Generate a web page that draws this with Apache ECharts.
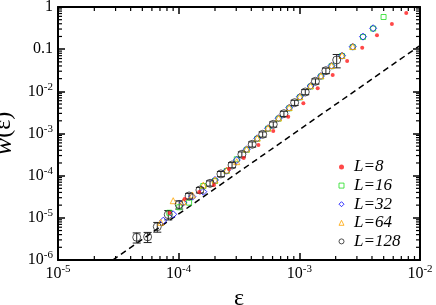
<!DOCTYPE html>
<html><head><meta charset="utf-8">
<script src="https://cdn.jsdelivr.net/npm/echarts@6/dist/echarts.min.js"></script>
<style>html,body{margin:0;padding:0;background:#fff}#c{width:436px;height:305px}</style>
</head><body><div id="c"></div>
<script>
// ---- data ----
const seriesNames = ['L=8', 'L=16', 'L=32', 'L=64', 'L=128'];

const x8 = [8.41e-5, 1.12e-4, 1.48e-4, 1.96e-4, 2.61e-4, 3.46e-4, 4.58e-4, 6.08e-4, 8.09e-4, 1.08e-3, 1.42e-3, 1.89e-3, 2.49e-3, 3.32e-3, 4.40e-3, 5.85e-3, 7.69e-3];
const y8 = [1.30e-5, 2.80e-5, 4.10e-5, 6.01e-5, 1.44e-4, 2.63e-4, 5.34e-4, 1.15e-3, 2.50e-3, 5.20e-3, 1.18e-2, 2.44e-2, 5.24e-2, 0.108, 0.213, 0.395, 0.721];

const x16 = [8.36e-5, 1.01e-4, 1.22e-4, 1.60e-4, 2.00e-4, 2.50e-4, 3.03e-4, 3.66e-4, 4.48e-4, 5.50e-4, 6.73e-4, 8.24e-4, 1.01e-3, 1.24e-3, 1.51e-3, 1.85e-3, 2.26e-3, 2.77e-3, 3.37e-3, 4.09e-3, 4.99e-3];
const y16 = [1.32e-5, 1.78e-5, 2.29e-5, 5.69e-5, 7.48e-5, 1.29e-4, 2.45e-4, 4.10e-4, 7.50e-4, 1.30e-3, 2.25e-3, 3.95e-3, 7.20e-3, 1.30e-2, 2.25e-2, 3.95e-2, 6.90e-2, 0.112, 0.195, 0.308, 0.579];

const x32 = [7.45e-5, 9.01e-5, 1.09e-4, 1.30e-4, 1.60e-4, 2.00e-4, 2.50e-4, 3.03e-4, 3.66e-4, 4.48e-4, 5.50e-4, 6.73e-4, 8.24e-4, 1.01e-3, 1.24e-3, 1.51e-3, 1.85e-3, 2.26e-3, 2.77e-3, 3.37e-3, 4.09e-3];
const y32 = [8.55e-6, 1.21e-5, 2.29e-5, 3.17e-5, 4.17e-5, 7.90e-5, 1.31e-4, 2.35e-4, 4.22e-4, 7.69e-4, 1.33e-3, 2.30e-3, 4.09e-3, 7.46e-3, 1.34e-2, 2.31e-2, 4.06e-2, 7.00e-2, 0.1145, 0.198, 0.313];

const x64 = [7.10e-5, 9.01e-5, 1.09e-4, 1.30e-4, 1.60e-4, 2.00e-4, 2.50e-4, 3.03e-4, 3.66e-4, 4.48e-4, 5.50e-4, 6.73e-4, 8.24e-4, 1.01e-3, 1.24e-3, 1.51e-3, 1.85e-3, 2.26e-3, 2.77e-3];
const y64 = [7.84e-6, 2.55e-5, 2.40e-5, 3.48e-5, 6.01e-5, 7.90e-5, 1.36e-4, 2.15e-4, 4.30e-4, 7.80e-4, 1.35e-3, 2.34e-3, 4.15e-3, 7.55e-3, 1.36e-2, 2.34e-2, 4.10e-2, 7.10e-2, 0.116];

const x128 = [4.49e-5, 5.53e-5, 6.65e-5, 8.20e-5, 1.01e-4, 1.22e-4, 1.50e-4, 1.82e-4, 2.24e-4, 2.77e-4, 3.34e-4, 4.07e-4, 4.97e-4, 6.08e-4, 7.45e-4, 9.14e-4, 1.12e-3, 1.36e-3, 1.66e-3, 2.04e-3];
const y128 = [3.46e-6, 3.55e-6, 6.17e-6, 1.19e-5, 2.07e-5, 3.30e-5, 4.57e-5, 6.59e-5, 1.10e-4, 1.79e-4, 3.21e-4, 5.55e-4, 9.57e-4, 1.65e-3, 2.95e-3, 5.38e-3, 9.65e-3, 1.73e-2, 3.09e-2, 5.54e-2];
const relErr128 = [0.27, 0.27, 0.26, 0.25, 0.22, 0.15, 0.15, 0.14, 0.14, 0.14, 0.14, 0.14, 0.14, 0.14, 0.14, 0.14, 0.14, 0.14, 0.15, 0.35];

// dashed reference line (two end points)
const lineX = [2.84e-5, 1e-2];
const lineY = [1e-6, 0.122];

// axis ranges and minor tick mantissas
const xRange = [1e-5, 1e-2];
const yRange = [1e-6, 1];
const minorMantissa = [2, 3, 4, 5, 6, 7, 8, 9];
const xDecades = [1e-5, 1e-4, 1e-3];
const yDecades = [1e-6, 1e-5, 1e-4, 1e-3, 1e-2, 1e-1];

// ---- build ----
const FONT = 'Liberation Serif';
const colors = ['#ff1a1a', '#22dd22', '#0000ff', '#ffa500', '#222222'];
const symbols = ['circle', 'rect', 'diamond', 'triangle', 'circle'];
const zip = (a, b) => a.map((v, i) => [v, b[i]]);
const xMinor = [], yMinor = [];
xDecades.forEach(d => minorMantissa.forEach(m => xMinor.push([m * d, 1e-3])));
yDecades.forEach(d => minorMantissa.forEach(m => yMinor.push([1e-4, m * d])));

function tickFmt(v) {
  const e = Math.round(Math.log10(v));
  if (e === 0) return '{b|1}';
  if (e === -1) return '{b|0.1}';
  return '{b|10}{s|' + (e < 0 ? '-' : '') + Math.abs(e) + '}';
}
const labelRich = {
  b: { fontFamily: FONT, fontSize: 16, color: '#000' },
  s: { fontFamily: FONT, fontSize: 11, color: '#000', padding: [0, 0, 9, 0] }
};
function axisBase(extra) {
  return Object.assign({
    type: 'log', logBase: 10,
    axisLine: { show: true, onZero: false, lineStyle: { color: '#000', width: 2 } },
    axisTick: { show: true, inside: true, length: 7, lineStyle: { color: '#000', width: 1.5 } },
    splitLine: { show: false },
    minorTick: { show: false },
    minorSplitLine: { show: false }
  }, extra);
}

const chart = echarts.init(document.getElementById('c'), null, { renderer: 'canvas' });
const hollow = c => ({ color: 'rgba(255,255,255,0)', borderColor: c, borderWidth: 1 });

const legendData = seriesNames.map((n, i) => ({
  name: n, icon: symbols[i],
  itemStyle: i === 0 ? { color: colors[0], borderWidth: 0 }
                     : { color: '#ffffff', borderColor: colors[i], borderWidth: 1 }
}));

chart.setOption({
  animation: false,
  backgroundColor: '#fff',
  grid: { left: 58, right: 16, top: 7, bottom: 45, containLabel: false, outerBoundsMode: 'none' },
  xAxis: [
    axisBase({ min: xRange[0], max: xRange[1], splitNumber: 3, position: 'bottom',
      axisLabel: { formatter: tickFmt, rich: labelRich, margin: 4 },
      name: 'ε', nameLocation: 'middle', nameGap: 23,
      nameTextStyle: { fontFamily: FONT, fontSize: 24, color: '#000' } }),
    axisBase({ min: xRange[0], max: xRange[1], splitNumber: 3, position: 'top',
      axisLabel: { show: false } })
  ],
  yAxis: [
    axisBase({ min: yRange[0], max: yRange[1], splitNumber: 6, position: 'left',
      axisLabel: { formatter: tickFmt, rich: labelRich, margin: 5 },
      name: '{w|w}{p|(ε)}', nameLocation: 'middle', nameGap: 34,
      nameTextStyle: { rich: {
        w: { fontFamily: FONT, fontStyle: 'italic', fontSize: 26, color: '#000' },
        p: { fontFamily: FONT, fontSize: 24, color: '#000' } } } }),
    axisBase({ min: yRange[0], max: yRange[1], splitNumber: 6, position: 'right',
      axisLabel: { show: false } })
  ],
  legend: {
    orient: 'vertical', left: 333.5, top: 153, itemWidth: 5, itemHeight: 5, itemGap: 0.6,
    data: legendData,
    textStyle: { fontFamily: FONT, fontStyle: 'italic', fontSize: 17, lineHeight: 18, color: '#000',
      padding: [0, 0, 0, 5] }
  },
  series: [
    { type: 'custom', silent: true, clip: false, z: 1, data: xMinor,
      renderItem: (params, api) => {
        const b = api.coord([api.value(0), yRange[0]]);
        const t = api.coord([api.value(0), yRange[1]]);
        const st = { stroke: '#000', lineWidth: 1.2 };
        return { type: 'group', children: [
          { type: 'line', shape: { x1: b[0], y1: b[1], x2: b[0], y2: b[1] - 4 }, style: st },
          { type: 'line', shape: { x1: t[0], y1: t[1], x2: t[0], y2: t[1] + 4 }, style: st }
        ] };
      } },
    { type: 'custom', silent: true, clip: false, z: 1, data: yMinor,
      renderItem: (params, api) => {
        const l = api.coord([xRange[0], api.value(1)]);
        const r = api.coord([xRange[1], api.value(1)]);
        const st = { stroke: '#000', lineWidth: 1.2 };
        return { type: 'group', children: [
          { type: 'line', shape: { x1: l[0], y1: l[1], x2: l[0] + 4, y2: l[1] }, style: st },
          { type: 'line', shape: { x1: r[0], y1: r[1], x2: r[0] - 4, y2: r[1] }, style: st }
        ] };
      } },
    { type: 'line', data: zip(lineX, lineY), symbol: 'none', silent: true, z: 2,
      lineStyle: { color: '#000', width: 1.5, type: [6, 4] } },
    { name: seriesNames[0], type: 'scatter', data: zip(x8, y8), symbol: symbols[0], symbolSize: 4,
      itemStyle: { color: colors[0] }, z: 5 },
    { name: seriesNames[1], type: 'scatter', data: zip(x16, y16), symbol: symbols[1], symbolSize: 5,
      itemStyle: hollow(colors[1]), z: 4 },
    { name: seriesNames[2], type: 'scatter', data: zip(x32, y32), symbol: symbols[2], symbolSize: 7,
      itemStyle: hollow(colors[2]), z: 4 },
    { name: seriesNames[3], type: 'scatter', data: zip(x64, y64), symbol: symbols[3], symbolSize: 6,
      itemStyle: hollow(colors[3]), z: 4 },
    { type: 'custom', silent: true, z: 3, data: x128.map((x, i) => [x, y128[i], relErr128[i]]),
      renderItem: (params, api) => {
        const x = api.value(0), y = api.value(1), r = api.value(2);
        const top = api.coord([x, y * (1 + r)]);
        const bot = api.coord([x, y * (1 - r)]);
        const st = { stroke: '#222', lineWidth: 1 };
        return { type: 'group', children: [
          { type: 'line', shape: { x1: top[0], y1: top[1], x2: bot[0], y2: bot[1] }, style: st },
          { type: 'line', shape: { x1: top[0] - 4, y1: top[1], x2: top[0] + 4, y2: top[1] }, style: st },
          { type: 'line', shape: { x1: bot[0] - 4, y1: bot[1], x2: bot[0] + 4, y2: bot[1] }, style: st }
        ] };
      } },
    { name: seriesNames[4], type: 'scatter', data: zip(x128, y128), symbol: symbols[4], symbolSize: 8,
      itemStyle: hollow(colors[4]), z: 4 }
  ]
});
</script></body></html>
